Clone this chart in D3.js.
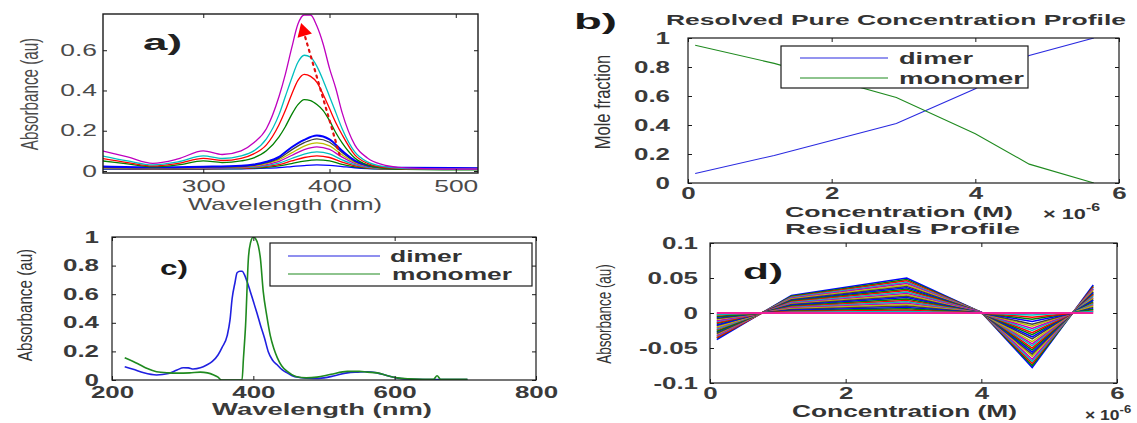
<!DOCTYPE html>
<html>
<head>
<meta charset="utf-8">
<script src="https://cdn.jsdelivr.net/npm/d3@7"></script>
<style>
  html, body { margin: 0; padding: 0; background: #fff; }
  svg { display: block; }
</style>
</head>
<body>
<script>
// ---------- Panel a: titration spectra (absorbance vs wavelength) ----------
const wlHigh = [220,240,260,280,300,315,330,340,350,360,365,370,375,380,385,390,395,400,405,410,420,430,440,460,490,518];
const absHigh1 = [0.050,0.035,0.020,0.030,0.050,0.042,0.050,0.065,0.100,0.170,0.220,0.280,0.330,0.355,0.350,0.330,0.300,0.250,0.190,0.140,0.065,0.030,0.016,0.008,0.006,0.006];
const absHigh2 = [0.062,0.042,0.025,0.038,0.063,0.052,0.063,0.085,0.130,0.230,0.300,0.380,0.450,0.480,0.470,0.440,0.380,0.310,0.240,0.180,0.080,0.038,0.020,0.010,0.008,0.008];
const absHigh3 = [0.075,0.050,0.030,0.045,0.075,0.062,0.075,0.100,0.160,0.280,0.370,0.460,0.540,0.575,0.565,0.520,0.450,0.370,0.290,0.210,0.095,0.045,0.025,0.012,0.010,0.010];
const absHigh4 = [0.100,0.070,0.038,0.060,0.100,0.082,0.100,0.140,0.210,0.370,0.480,0.610,0.730,0.775,0.775,0.720,0.630,0.510,0.410,0.290,0.130,0.065,0.035,0.015,0.010,0.010];

const wlLow = [220,260,300,330,340,350,360,370,380,390,400,410,420,430,440,460,518];
const absLow1 = [0.010,0.009,0.010,0.011,0.012,0.014,0.017,0.022,0.027,0.030,0.028,0.022,0.016,0.012,0.010,0.009,0.008];
const absLow2 = [0.012,0.010,0.011,0.012,0.014,0.018,0.025,0.037,0.049,0.055,0.050,0.033,0.020,0.013,0.011,0.010,0.009];
const absLow3 = [0.013,0.011,0.012,0.014,0.017,0.023,0.032,0.050,0.067,0.075,0.067,0.044,0.026,0.016,0.012,0.011,0.010];
const absLow4 = [0.014,0.012,0.014,0.016,0.019,0.027,0.039,0.062,0.084,0.095,0.085,0.055,0.031,0.018,0.014,0.012,0.011];
const absLow5 = [0.015,0.013,0.015,0.018,0.023,0.032,0.048,0.077,0.106,0.120,0.107,0.069,0.038,0.022,0.016,0.013,0.012];
const absLow6 = [0.016,0.014,0.017,0.020,0.025,0.037,0.056,0.090,0.124,0.140,0.125,0.080,0.043,0.024,0.017,0.014,0.013];
const absLow7 = [0.018,0.015,0.018,0.022,0.028,0.041,0.063,0.105,0.141,0.160,0.143,0.092,0.048,0.026,0.018,0.015,0.013];
const absLow8 = [0.022,0.018,0.021,0.026,0.032,0.046,0.070,0.118,0.155,0.176,0.157,0.100,0.052,0.028,0.020,0.016,0.014];

// arrow marking the growth of the band (wavelength nm, absorbance)
const arrowFrom = [408, 0.08];
const arrowTo = [377.5, 0.735];

const ticksAx = [300, 400, 500];
const ticksAy = [0, 0.2, 0.4, 0.6];

// ---------- Panel b: resolved concentration profiles ----------
const concentration = [0.1, 1.2, 2.9, 4.0, 4.75, 5.65];   // x 10^-6 M
const dimerFraction = [0.065, 0.19, 0.41, 0.65, 0.88, 1.0];
const monomerFraction = [0.95, 0.825, 0.59, 0.34, 0.13, 0.0];
const ticksBx = [0, 2, 4, 6];
const ticksBy = [0, 0.2, 0.4, 0.6, 0.8, 1];

// ---------- Panel c: resolved pure spectra ----------
const wlDimer = [218,230,245,263,280,292,301,308,315,325,334,342,350,356,363,367,370,374,377,381,384,388,391,395,400,405,410,416,421,427,434,441,448,455,465,485,500,515,533,548,561,575,590,604,627,660,703];
const specDimer = [0.093,0.075,0.050,0.035,0.045,0.070,0.086,0.085,0.077,0.085,0.105,0.130,0.175,0.230,0.310,0.420,0.570,0.680,0.750,0.760,0.760,0.730,0.690,0.630,0.550,0.470,0.385,0.290,0.200,0.140,0.105,0.070,0.050,0.030,0.018,0.010,0.015,0.030,0.050,0.055,0.058,0.050,0.030,0.013,0.005,0.003,0.003];
const wlMonomer = [218,230,240,250,263,280,292,310,325,335,344,350,355,360,370,380,384,386,389,393,396,400,403,407,410,414,419,424,429,434,440,448,460,475,490,510,533,550,561,575,590,604,620,640,655,660,665,680,703];
const specMonomer = [0.156,0.130,0.105,0.080,0.058,0.050,0.048,0.050,0.055,0.050,0.035,0.020,0.000,0.000,0.000,0.000,0.000,0.150,0.380,0.850,0.960,1.000,0.990,0.940,0.850,0.620,0.450,0.310,0.220,0.155,0.100,0.060,0.025,0.015,0.020,0.040,0.060,0.060,0.055,0.050,0.030,0.015,0.008,0.005,0.005,0.030,0.005,0.005,0.005];
const ticksCx = [200, 400, 600, 800];
const ticksCy = [0, 0.2, 0.4, 0.6, 0.8, 1];

// ---------- Panel d: residuals at each wavelength ----------
const residualRows = [
  [-0.038, 0.025, 0.050, 0.001, -0.078, 0.040],
  [-0.036, 0.024, 0.048, 0.001, -0.075, 0.038],
  [-0.035, 0.023, 0.046, 0.001, -0.072, 0.037],
  [-0.033, 0.022, 0.044, 0.001, -0.069, 0.035],
  [-0.032, 0.021, 0.042, 0.001, -0.066, 0.034],
  [-0.030, 0.020, 0.040, 0.001, -0.062, 0.032],
  [-0.029, 0.019, 0.038, 0.001, -0.059, 0.030],
  [-0.027, 0.018, 0.036, 0.001, -0.056, 0.029],
  [-0.026, 0.017, 0.034, 0.001, -0.053, 0.027],
  [-0.024, 0.016, 0.032, 0.001, -0.050, 0.026],
  [-0.023, 0.015, 0.030, 0.001, -0.047, 0.024],
  [-0.021, 0.014, 0.028, 0.001, -0.044, 0.022],
  [-0.020, 0.013, 0.026, 0.000, -0.041, 0.021],
  [-0.018, 0.012, 0.024, 0.000, -0.037, 0.019],
  [-0.017, 0.011, 0.022, 0.000, -0.034, 0.018],
  [-0.015, 0.010, 0.020, 0.000, -0.031, 0.016],
  [-0.014, 0.009, 0.018, 0.000, -0.028, 0.014],
  [-0.012, 0.008, 0.016, 0.000, -0.025, 0.013],
  [-0.011, 0.007, 0.014, 0.000, -0.022, 0.011],
  [-0.009, 0.006, 0.012, 0.000, -0.019, 0.010],
  [-0.008, 0.005, 0.010, 0.000, -0.016, 0.008],
  [-0.006, 0.004, 0.008, 0.000, -0.012, 0.006],
  [-0.005, 0.003, 0.006, 0.000, -0.009, 0.005],
  [-0.003, 0.002, 0.004, 0.000, -0.006, 0.003],
  [-0.002, 0.001, 0.002, 0.000, -0.003, 0.002],
  [0, 0, 0, 0, 0, 0]
];
const ticksDx = [0, 2, 4, 6];
const ticksDy = [-0.1, -0.05, 0, 0.05, 0.1];

// MATLAB-style line colour order
const lineColors = ["#0000ff", "#008000", "#ff0000", "#00bfbf", "#bf00bf", "#bfbf00", "#404040"];

// ---------------------------------------------------------------------
const W = 1137, H = 423;
const FONT = "'Liberation Sans', Arial, Helvetica, sans-serif";
const SX = 1.62;   // horizontal stretch applied to the lettering

const svg = d3.select("body").append("svg")
  .attr("width", W).attr("height", H)
  .attr("viewBox", `0 0 ${W} ${H}`);
svg.append("rect").attr("width", W).attr("height", H).attr("fill", "#fff");

function panel(cfg) {
  const x = d3.scaleLinear().domain(cfg.xDomain).range([cfg.left, cfg.right]);
  const y = d3.scaleLinear().domain(cfg.yDomain).range([cfg.bottom, cfg.top]);
  const g = svg.append("g");
  g.append("clipPath").attr("id", cfg.id).append("rect")
    .attr("x", cfg.left).attr("y", cfg.top)
    .attr("width", cfg.right - cfg.left).attr("height", cfg.bottom - cfg.top);
  const plot = g.append("g").attr("clip-path", `url(#${cfg.id})`);
  return { x, y, g, plot, cfg };
}

function axes(p) {
  const { x, y, g, cfg } = p;
  const fmt = d => String(d);
  const ax = g.append("g").attr("color", "#1a1a1a");
  const bottom = ax.append("g").attr("transform", `translate(0,${cfg.bottom})`)
    .call(d3.axisBottom(x).tickValues(cfg.xTicks).tickFormat(fmt)
      .tickSizeInner(-4).tickSizeOuter(0).tickPadding(cfg.xPad));
  ax.append("g").attr("transform", `translate(0,${cfg.top})`)
    .call(d3.axisTop(x).tickValues(cfg.xTicks).tickFormat("")
      .tickSizeInner(-4).tickSizeOuter(0));
  const left = ax.append("g").attr("transform", `translate(${cfg.left},0)`)
    .call(d3.axisLeft(y).tickValues(cfg.yTicks).tickFormat(fmt)
      .tickSizeInner(-4).tickSizeOuter(0).tickPadding(cfg.yPad));
  ax.append("g").attr("transform", `translate(${cfg.right},0)`)
    .call(d3.axisRight(y).tickValues(cfg.yTicks).tickFormat("")
      .tickSizeInner(-4).tickSizeOuter(0));
  ax.selectAll(".domain").remove();
  ax.selectAll(".tick line").attr("stroke-width", 1);
  ax.append("rect")
    .attr("x", cfg.left).attr("y", cfg.top)
    .attr("width", cfg.right - cfg.left).attr("height", cfg.bottom - cfg.top)
    .attr("fill", "none").attr("stroke", "#1a1a1a").attr("stroke-width", cfg.boxWidth || 1.2);
  [bottom, left].forEach(s => s.selectAll("text")
    .attr("font-family", FONT).attr("font-size", cfg.tickSize)
    .attr("font-weight", cfg.tickWeight).attr("fill", cfg.tickFill));
  bottom.selectAll("text").attr("transform", `scale(${SX},1)`);
  left.selectAll("text").attr("x", -cfg.yPad / SX).attr("transform", `scale(${SX},1)`);
}

function label(parent, s, o) {
  const t = parent.append("text")
    .attr("font-family", FONT)
    .attr("font-size", o.size)
    .attr("font-weight", o.weight || "normal")
    .attr("fill", o.fill || "#333")
    .attr("text-anchor", o.anchor || "start");
  if (o.rotate) {
    t.attr("transform", `translate(${o.x},${o.y}) scale(${o.sx || 1},1) rotate(-90)`);
  } else if (o.w) {
    t.attr("x", o.x).attr("y", o.y)
      .attr("textLength", o.w).attr("lengthAdjust", "spacingAndGlyphs");
  } else {
    t.attr("transform", `translate(${o.x},${o.y}) scale(${o.sx || SX},1)`);
  }
  t.text(s);
  return t;
}

// ---------------- a) ----------------
const pa = panel({
  id: "clipA", left: 103, right: 478, top: 14, bottom: 173,
  xDomain: [220.6, 517.6], yDomain: [-0.01, 0.78],
  xTicks: ticksAx, yTicks: ticksAy, xPad: 7.5, yPad: 6,
  tickSize: 16.3, tickWeight: "normal", tickFill: "#4a4a4a", boxWidth: 1.4
});
{
  const lineA = (wl) => d3.line().x((d, i) => pa.x(wl[i])).y(d => pa.y(d)).curve(d3.curveMonotoneX);
  const spectraA = [
    [wlLow, absLow1], [wlLow, absLow2], [wlLow, absLow3], [wlLow, absLow4],
    [wlLow, absLow5], [wlLow, absLow6], [wlLow, absLow7], [wlLow, absLow8],
    [wlHigh, absHigh1], [wlHigh, absHigh2], [wlHigh, absHigh3], [wlHigh, absHigh4]
  ];
  spectraA.forEach(([wl, vals], i) => {
    pa.plot.append("path")
      .attr("d", lineA(wl)(vals))
      .attr("fill", "none")
      .attr("stroke", lineColors[i % lineColors.length])
      .attr("stroke-width", i === 7 ? 2 : 1.3);
  });
  // dotted arrow
  const x0 = pa.x(arrowFrom[0]), y0 = pa.y(arrowFrom[1]);
  const x1 = pa.x(arrowTo[0]), y1 = pa.y(arrowTo[1]);
  const len = Math.hypot(x1 - x0, y1 - y0);
  const ux = (x1 - x0) / len, uy = (y1 - y0) / len;
  const bx = x1 - ux * 13, by = y1 - uy * 13;
  pa.plot.append("line")
    .attr("x1", x0).attr("y1", y0).attr("x2", bx).attr("y2", by)
    .attr("stroke", "#e01010").attr("stroke-width", 2.2)
    .attr("stroke-dasharray", "2.2,4.5").attr("stroke-linecap", "round");
  pa.plot.append("polygon")
    .attr("points", [[x1, y1], [bx - uy * 7.5, by + ux * 7.5], [bx + uy * 7.5, by - ux * 7.5]].map(p => p.join(",")).join(" "))
    .attr("fill", "#ff0000");
  axes(pa);
  label(pa.g, "a)", { x: 143, y: 50, size: 22, weight: "bold", fill: "#222", w: 39 });
  label(pa.g, "Wavelength (nm)", { x: 188, y: 210, size: 16.5, fill: "#4a4a4a", w: 194 });
  label(pa.g, "Absorbance (au)", { x: 38, y: 94, size: 15.2, fill: "#4a4a4a", anchor: "middle", rotate: true, sx: 1.55 });
}

// ---------------- b) ----------------
const pb = panel({
  id: "clipB", left: 688, right: 1119, top: 38, bottom: 183,
  xDomain: [0, 6], yDomain: [0, 1],
  xTicks: ticksBx, yTicks: ticksBy, xPad: 4.5, yPad: 18,
  tickSize: 16, tickWeight: "bold", tickFill: "#3a3a3a"
});
{
  const lineB = d3.line().x((d, i) => pb.x(concentration[i])).y(d => pb.y(d));
  pb.plot.append("path").attr("d", lineB(dimerFraction))
    .attr("fill", "none").attr("stroke", "#2a2ae0").attr("stroke-width", 1.1);
  pb.plot.append("path").attr("d", lineB(monomerFraction))
    .attr("fill", "none").attr("stroke", "#1f8a1f").attr("stroke-width", 1.1);
  // legend
  const lg = pb.g.append("g");
  lg.append("rect").attr("x", 781).attr("y", 46).attr("width", 247).attr("height", 42)
    .attr("fill", "#fff").attr("stroke", "#1a1a1a").attr("stroke-width", 1.2);
  lg.append("line").attr("x1", 800).attr("x2", 888).attr("y1", 58).attr("y2", 58)
    .attr("stroke", "#2a2ae0").attr("stroke-width", 1.1);
  lg.append("line").attr("x1", 800).attr("x2", 888).attr("y1", 78).attr("y2", 78)
    .attr("stroke", "#1f8a1f").attr("stroke-width", 1.1);
  label(lg, "dimer", { x: 899, y: 63.5, size: 16, weight: "bold", fill: "#333", w: 74 });
  label(lg, "monomer", { x: 899, y: 83.5, size: 16, weight: "bold", fill: "#333", w: 125 });
  axes(pb);
  label(pb.g, "b)", { x: 574, y: 29, size: 22, weight: "bold", fill: "#1a1a1a", w: 43 });
  label(pb.g, "Resolved Pure Concentration Profile", { x: 666, y: 25, size: 14.5, weight: "bold", fill: "#333", w: 460 });
  label(pb.g, "Concentration (M)", { x: 785, y: 217, size: 15.5, weight: "bold", fill: "#333", w: 228 });
  const eb = label(pb.g, "\u00d7 10", { x: 1043, y: 219, size: 15, weight: "bold", fill: "#333", sx: 1.45 });
  eb.append("tspan").attr("dy", -8).attr("font-size", 11).text("-6");
  label(pb.g, "Mole fraction", { x: 610, y: 102, size: 16.5, fill: "#333", anchor: "middle", rotate: true, sx: 1.35 });
}

// ---------------- c) ----------------
const pc = panel({
  id: "clipC", left: 112, right: 536, top: 237, bottom: 380,
  xDomain: [200, 800], yDomain: [0, 1],
  xTicks: ticksCx, yTicks: ticksCy, xPad: 6.5, yPad: 13,
  tickSize: 16, tickWeight: "bold", tickFill: "#3a3a3a"
});
{
  pc.plot.append("path")
    .attr("d", d3.line().x((d, i) => pc.x(wlDimer[i])).y(d => pc.y(d)).curve(d3.curveMonotoneX)(specDimer))
    .attr("fill", "none").attr("stroke", "#2020e0").attr("stroke-width", 1.6);
  pc.plot.append("path")
    .attr("d", d3.line().x((d, i) => pc.x(wlMonomer[i])).y(d => pc.y(d)).curve(d3.curveMonotoneX)(specMonomer))
    .attr("fill", "none").attr("stroke", "#1f8a1f").attr("stroke-width", 1.6);
  const lg = pc.g.append("g");
  lg.append("rect").attr("x", 270).attr("y", 243).attr("width", 262).attr("height", 43)
    .attr("fill", "#fff").attr("stroke", "#1a1a1a").attr("stroke-width", 1.2);
  lg.append("line").attr("x1", 288).attr("x2", 380).attr("y1", 256).attr("y2", 256)
    .attr("stroke", "#2020e0").attr("stroke-width", 1.2);
  lg.append("line").attr("x1", 288).attr("x2", 380).attr("y1", 274).attr("y2", 274)
    .attr("stroke", "#1f8a1f").attr("stroke-width", 1.2);
  label(lg, "dimer", { x: 390, y: 261.5, size: 16, weight: "bold", fill: "#333", w: 72 });
  label(lg, "monomer", { x: 392, y: 279.5, size: 16, weight: "bold", fill: "#333", w: 120 });
  axes(pc);
  label(pc.g, "c)", { x: 160, y: 275, size: 21, weight: "bold", fill: "#1a1a1a", w: 28 });
  label(pc.g, "Wavelength (nm)", { x: 212, y: 415, size: 17, weight: "bold", fill: "#3a3a3a", w: 220 });
  label(pc.g, "Absorbance (au)", { x: 32, y: 305, size: 15.2, fill: "#333", anchor: "middle", rotate: true, sx: 1.3 });
}

// ---------------- d) ----------------
const pd = panel({
  id: "clipD", left: 710, right: 1117, top: 243, bottom: 383,
  xDomain: [0, 6], yDomain: [-0.1, 0.1],
  xTicks: ticksDx, yTicks: ticksDy, xPad: 5, yPad: 12,
  tickSize: 16, tickWeight: "bold", tickFill: "#3a3a3a"
});
{
  const lineD = d3.line().x((d, i) => pd.x(concentration[i])).y(d => pd.y(d));
  residualRows.forEach((row, i) => {
    pd.plot.append("path").attr("d", lineD(row))
      .attr("fill", "none")
      .attr("stroke", i === residualRows.length - 1 ? "#f0209a" : lineColors[i % lineColors.length])
      .attr("stroke-width", i === residualRows.length - 1 ? 2 : 1.5);
  });
  axes(pd);
  label(pd.g, "d)", { x: 743, y: 279, size: 22, weight: "bold", fill: "#1a1a1a", w: 40 });
  label(pd.g, "Residuals Profile", { x: 785, y: 234, size: 14.5, weight: "bold", fill: "#333", w: 235 });
  label(pd.g, "Concentration (M)", { x: 792, y: 417, size: 16, weight: "bold", fill: "#333", w: 225 });
  const ed = label(pd.g, "\u00d7 10", { x: 1085, y: 420, size: 14, weight: "bold", fill: "#333", sx: 1.25 });
  ed.append("tspan").attr("dy", -7).attr("font-size", 10.5).text("-6");
  label(pd.g, "Absorbance (au)", { x: 611, y: 314, size: 13.5, fill: "#333", anchor: "middle", rotate: true, sx: 1.55 });
}
</script>
</body>
</html>
